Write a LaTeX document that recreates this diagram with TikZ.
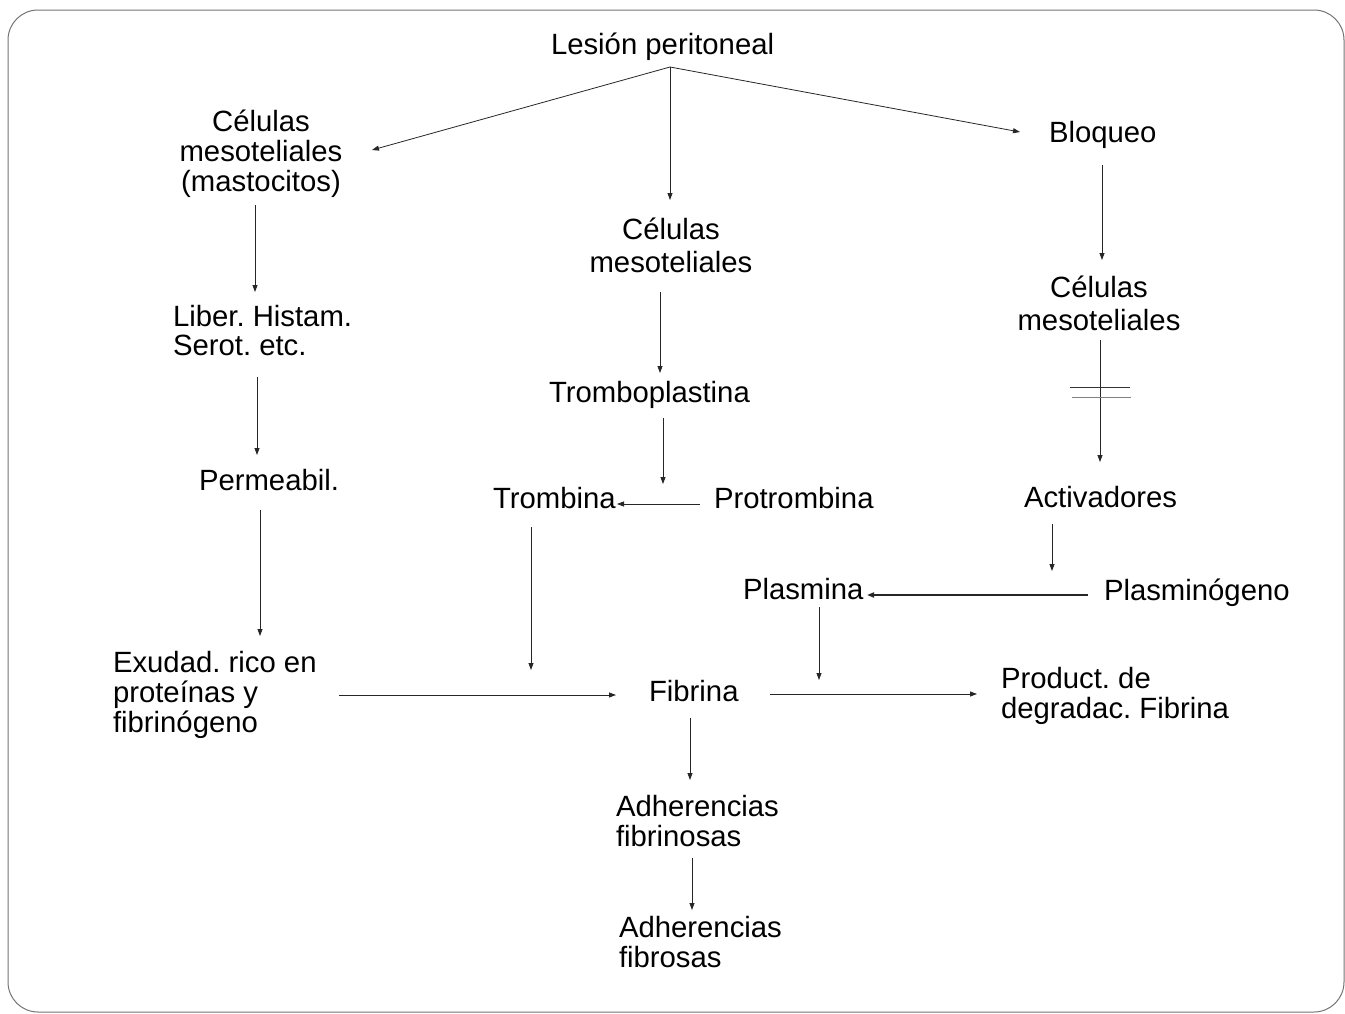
\documentclass[tikz,border=0pt]{standalone}
\usepackage{fontspec}
\setmainfont{Liberation Sans}
\usetikzlibrary{arrows.meta}
\frenchspacing
\tikzset{
  lbl/.style={inner sep=0pt, outer sep=0pt, font=\frenchspacing\fontsize{29.3}{30}\selectfont},
  lbltight/.style={inner sep=0pt, outer sep=0pt, font=\frenchspacing\fontsize{29.3}{29}\selectfont},
  lbl33/.style={inner sep=0pt, outer sep=0pt, font=\frenchspacing\fontsize{29.3}{33}\selectfont},
  arr/.style={draw=black!85, line width=0.8pt, -{Triangle[length=7pt,width=5pt]}},
  blockline/.style={draw=black!80, line width=0.9pt},
  frame/.style={draw=black!55, line width=1pt, rounded corners=30pt}
}
\begin{document}
\begin{tikzpicture}[x=1pt,y=-1pt]
\useasboundingbox (0,0) rectangle (1345,1013);
\draw[frame] (8,10) rectangle (1344,1012);

% nodes (multi-line nodes are anchored at the baseline of their last line)
\node[lbl, anchor=base west] (lesion) at (551,54) {Lesión peritoneal};
\node[lbl, anchor=base, align=center] (celL) at (261,191) {Células\\mesoteliales\\(mastocitos)};
\node[lbl, anchor=base west] (bloqueo) at (1049,142) {Bloqueo};
\node[lbl33, anchor=base, align=center] (celM) at (671,272) {Células\\mesoteliales};
\node[lbl33, anchor=base, align=center] (celR) at (1099,330) {Células\\mesoteliales};
\node[lbltight, anchor=base west, align=left] (liber) at (173,355) {Liber. Histam.\\Serot. etc.};
\node[lbl, anchor=base west] (trombopl) at (549,402) {Tromboplastina};
\node[lbl, anchor=base west] (perm) at (199,490) {Permeabil.};
\node[lbl, anchor=base west] (trombina) at (493,508) {Trombina};
\node[lbl, anchor=base west] (protrombina) at (714,508) {Protrombina};
\node[lbl, anchor=base west] (activ) at (1024,507) {Activadores};
\node[lbl, anchor=base west] (plasmina) at (743,599) {Plasmina};
\node[lbl, anchor=base west] (plasminog) at (1104,600) {Plasminógeno};
\node[lbl, anchor=base west, align=left] (exud) at (113,732) {Exudad. rico en\\proteínas y\\fibrinógeno};
\node[lbl, anchor=base west] (fibrina) at (649,701) {Fibrina};
\node[lbl, anchor=base west, align=left] (product) at (1001,718) {Product. de\\degradac. Fibrina};
\node[lbl, anchor=base west, align=left] (adh1) at (616,846) {Adherencias\\fibrinosas};
\node[lbl, anchor=base west, align=left] (adh2) at (619,967) {Adherencias\\fibrosas};

% helper coordinates
\coordinate (root) at ([xshift=119pt,yshift=-13pt]lesion.base west);
\coordinate (junc) at ([xshift=-51pt,yshift=24pt]protrombina.base west);

% connectors
\draw[arr] (root) -- ([xshift=111pt,yshift=41pt]celL.base);
\draw[arr] (root) -- ([xshift=-1pt,yshift=72pt]celM.base);
\draw[arr] (root) -- ([xshift=-29pt,yshift=10pt]bloqueo.base west);

\draw[arr] ([xshift=-6pt,yshift=-14pt]celL.base) -- ([xshift=82pt,yshift=63pt]liber.base west);
\draw[arr] ([xshift=84pt,yshift=-22pt]liber.base west) -- ([xshift=58pt,yshift=35pt]perm.base west);
\draw[arr] ([xshift=61pt,yshift=-20pt]perm.base west) -- ([xshift=147pt,yshift=96pt]exud.base west);

\draw[arr] ([xshift=-11pt,yshift=-20pt]celM.base) -- ([xshift=111pt,yshift=29pt]trombopl.base west);
\draw[arr] ([xshift=114pt,yshift=-16pt]trombopl.base west) -- (junc);
\draw[arr] ([xshift=-14pt,yshift=4pt]protrombina.base west) -- ([xshift=124pt,yshift=4pt]trombina.base west);
\draw[arr] ([xshift=38pt,yshift=-19pt]trombina.base west) -- ([xshift=-118pt,yshift=31pt]fibrina.base west);

\draw[arr] ([xshift=53pt,yshift=-23pt]bloqueo.base west) -- ([xshift=3pt,yshift=70pt]celR.base);
\draw[arr] ([xshift=1pt,yshift=-10pt]celR.base) -- ([xshift=76pt,yshift=45pt]activ.base west);
\draw[blockline] ([xshift=-29pt,yshift=-57pt]celR.base) -- ++(60,0);
\draw[blockline, draw=black!50] ([xshift=-27pt,yshift=-67pt]celR.base) -- ++(59,0);

\draw[arr] ([xshift=28pt,yshift=-17pt]activ.base west) -- ([xshift=309pt,yshift=28pt]plasmina.base west);
\draw[arr, line width=1.6pt] ([xshift=-16pt,yshift=5pt]plasminog.base west) -- ([xshift=124pt,yshift=4pt]plasmina.base west);
\draw[arr] ([xshift=76pt,yshift=-8pt]plasmina.base west) -- ([xshift=170pt,yshift=21pt]fibrina.base west);

\draw[arr] ([xshift=226pt,yshift=37pt]exud.base west) -- ([xshift=-33pt,yshift=6pt]fibrina.base west);
\draw[arr] ([xshift=121pt,yshift=7pt]fibrina.base west) -- ([xshift=-24pt,yshift=24pt]product.base west);
\draw[arr] ([xshift=41pt,yshift=-17pt]fibrina.base west) -- ([xshift=74pt,yshift=66pt]adh1.base west);
\draw[arr] ([xshift=76pt,yshift=-12pt]adh1.base west) -- ([xshift=73pt,yshift=57pt]adh2.base west);
\end{tikzpicture}
\end{document}
